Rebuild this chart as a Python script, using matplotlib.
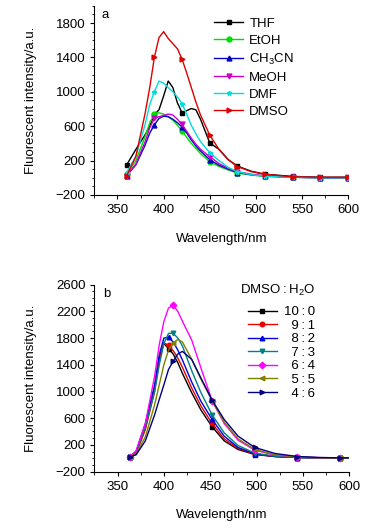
import matplotlib
matplotlib.use("Agg")
import matplotlib.pyplot as plt
from matplotlib.ticker import MultipleLocator

plt.rcParams['font.family'] = ['Liberation Sans', 'DejaVu Sans']
plt.rcParams['mathtext.fontset'] = 'custom'
plt.rcParams['mathtext.rm'] = 'Liberation Sans'
plt.rcParams['font.size'] = 8

# ---- panel a: solvents ----
wl_a = [360, 370, 380, 385, 390, 395, 400, 405, 410, 415, 420, 425, 430, 435,
        440, 450, 460, 470, 480, 495, 510, 540, 570, 600]
thf = [150, 330, 500, 600, 735, 790, 950, 1125, 1050, 870, 755, 780, 805, 790,
       680, 405, 330, 210, 135, 75, 40, 15, 5, 5]
etoh = [45, 200, 480, 640, 740, 755, 740, 710, 670, 610, 545, 470, 400, 340,
        280, 185, 130, 90, 55, 30, 15, 5, 0, 0]
ch3cn = [25, 150, 380, 520, 615, 690, 715, 710, 680, 640, 590, 520, 440, 370,
         310, 210, 145, 100, 60, 35, 20, 5, 0, 0]
meoh = [25, 160, 420, 580, 690, 710, 725, 740, 730, 680, 620, 540, 460, 390,
        330, 245, 165, 110, 70, 40, 20, 5, 0, 0]
dmf = [60, 250, 620, 850, 1000, 1125, 1100, 1050, 1000, 940, 860, 740, 610, 510,
       420, 290, 200, 120, 70, 35, 15, 5, 0, 0]
dmso = [22, 250, 750, 1050, 1400, 1630, 1700, 1620, 1560, 1500, 1380, 1220, 1050, 880,
        730, 495, 330, 210, 130, 70, 40, 10, 5, 5]
solvents = ['THF', 'EtOH', '$\\mathregular{CH_3CN}$', 'MeOH', 'DMF', 'DMSO']

# ---- panel b: DMSO/H2O ratios ----
wl_b = [363, 370, 380, 390, 395, 400, 405, 410, 415, 420, 430, 440, 452, 465,
        480, 498, 520, 544, 570, 590, 600]
r10_0 = [20, 80, 450, 1050, 1500, 1720, 1640, 1560, 1430, 1270, 980, 720, 470, 260,
         130, 55, 25, 10, 5, 0, 0]
r9_1 = [20, 75, 430, 1000, 1450, 1730, 1690, 1610, 1500, 1360, 1050, 780, 520, 290,
        145, 60, 25, 10, 5, 0, 0]
r8_2 = [20, 100, 520, 1100, 1550, 1800, 1810, 1740, 1620, 1470, 1140, 850, 580, 330,
        160, 65, 25, 10, 5, 0, 0]
r7_3 = [20, 90, 470, 1000, 1400, 1720, 1870, 1870, 1800, 1680, 1310, 980, 650, 380,
        190, 75, 30, 10, 5, 0, 0]
r6_4 = [20, 110, 520, 1230, 1700, 2050, 2250, 2290, 2200, 2050, 1770, 1350, 860, 520,
        270, 120, 45, 20, 5, 0, 0]
r5_5 = [20, 60, 320, 800, 1100, 1400, 1620, 1720, 1780, 1740, 1480, 1180, 860, 540,
        290, 130, 50, 20, 5, 0, 0]
r4_6 = [20, 50, 260, 650, 880, 1100, 1330, 1450, 1560, 1600, 1480, 1200, 870, 580,
        330, 160, 70, 25, 10, 5, 5]
ratios = ['10\u2009:\u20090', '\u20079\u2009:\u20091', '\u20078\u2009:\u20092',
          '\u20077\u2009:\u20093', '\u20076\u2009:\u20094', '\u20075\u2009:\u20095',
          '\u20074\u2009:\u20096']

fig = plt.figure(figsize=(3.76, 5.31), dpi=100)
ax1 = fig.add_axes([0.251, 0.633, 0.675, 0.356])
ax2 = fig.add_axes([0.251, 0.112, 0.678, 0.352])

cols_a = ['black', '#00dd00', '#0000cc', '#cc00cc', '#00dddd', '#dd0000']
marks_a = ['s', 'o', '^', 'v', '*', '>']
every_a = [0, 4, 10, 15, 18, 20, 21, 22, 23]
for ys, lab, c, m in zip([thf, etoh, ch3cn, meoh, dmf, dmso], solvents, cols_a, marks_a):
    ax1.plot(wl_a, ys, color=c, lw=1, marker=m, ms=3.5, markevery=every_a, label=lab)

cols_b = ['black', '#ee0000', '#0000dd', '#008080', '#ff00ff', '#808000', '#000080']
marks_b = ['s', 'o', '^', 'v', 'D', '<', '>']
mids_b = [6, 6, 6, 7, 7, 7, 7]
for ys, lab, c, m, mid in zip([r10_0, r9_1, r8_2, r7_3, r6_4, r5_5, r4_6],
                              ratios, cols_b, marks_b, mids_b):
    ax2.plot(wl_b, ys, color=c, lw=1, marker=m, ms=3.3,
             markevery=[0, mid, 12, 15, 17, 19], label=lab)

for ax, top in [(ax1, 2000), (ax2, 2600)]:
    ax.set_xlim(325, 600)
    ax.set_ylim(-200, top)
    ax.set_yticks(list(range(-200, top + 1, 400)))
    ax.xaxis.set_major_locator(MultipleLocator(50))
    ax.xaxis.set_minor_locator(MultipleLocator(25))
    ax.yaxis.set_minor_locator(MultipleLocator(100))
    ax.spines['top'].set_visible(False)
    ax.spines['right'].set_visible(False)
    ax.spines['left'].set_linewidth(0.8)
    ax.spines['bottom'].set_linewidth(0.8)
    ax.tick_params(which='major', direction='out', length=3, width=0.8, labelsize=9.5)
    ax.tick_params(which='minor', direction='out', length=1.8, width=0.6)
    ax.set_xlabel('Wavelength/nm', fontsize=9.5, labelpad=12)
    ax.set_ylabel('Fluorescent intensity/a.u.', fontsize=9.5, labelpad=13)

ax1.set_yticks([-200, 200, 600, 1000, 1400, 1800])
ax1.text(0.03, 0.95, 'a', transform=ax1.transAxes, fontsize=9.5, va='center')
ax2.text(0.035, 0.95, 'b', transform=ax2.transAxes, fontsize=9.5, va='center')

ax1.legend(loc='upper left', bbox_to_anchor=(0.452, 0.965), frameon=False,
           fontsize=9.5, handlelength=2.2, handletextpad=0.45, labelspacing=0.36,
           borderaxespad=0)
ax2.text(0.72, 0.968, 'DMSO\u2009:\u2009$\\mathregular{H_2O}$', transform=ax2.transAxes,
         fontsize=9.5, ha='center', va='center')
ax2.legend(loc='upper left', bbox_to_anchor=(0.58, 0.914), frameon=False,
           fontsize=9.5, handlelength=2.2, handletextpad=0.6, labelspacing=0.1,
           borderaxespad=0)

fig.savefig('out.png', dpi=100)
